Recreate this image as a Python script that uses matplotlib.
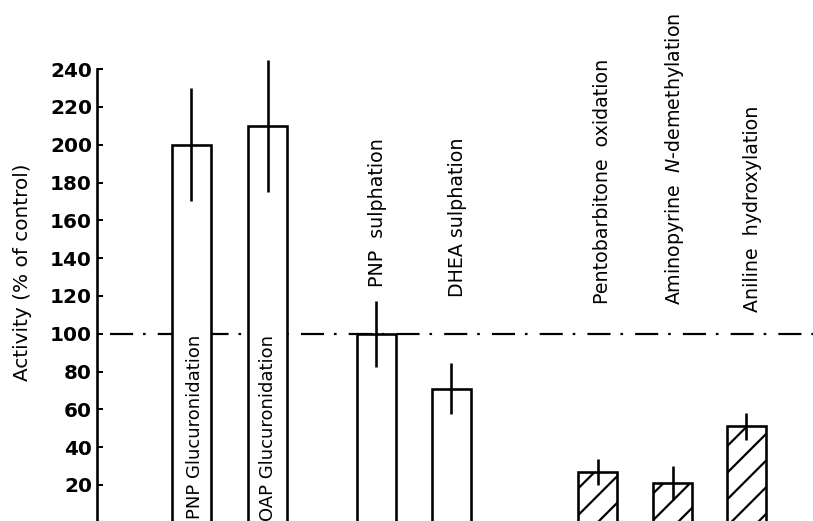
import matplotlib
matplotlib.use("Agg")
import matplotlib.pyplot as plt
import numpy as np

# ---- data ----
categories = ["PNP Glucuronidation", "OAP Glucuronidation", "PNP  sulphation",
              "DHEA sulphation", "Pentobarbitone  oxidation",
              r"Aminopyrine  $\it{N}$-demethylation", "Aniline  hydroxylation"]
values = [200, 210, 100, 71, 27, 21, 51]
errors = [30, 35, 17.5, 13.5, 7, 9, 7]
hatched = [False, False, False, False, True, True, True]
yticks = [20, 40, 60, 80, 100, 120, 140, 160, 180, 200, 220, 240]
ylabel = "Activity (% of control)"
control_level = 100

# ---- layout ----
DPI = 160
W, H = 813, 521
PT = 72.0 / DPI  # points per pixel
xpos = np.array([0.0, 1.02, 2.47, 3.47, 5.42, 6.42, 7.40])
bar_w = 0.52
inside = [True, True, False, False, False, False, False]
label_x_off = [0.05, 0.0, 0.01, 0.08, 0.06, 0.03, 0.09]
label_y = [99.5, 99.5, 124.5, 119.5, 115.5, 115, 111.5]

plt.rcParams['hatch.linewidth'] = 2.2 * PT
plt.rcParams['font.family'] = ['DejaVu Sans']

fig = plt.figure(figsize=(W / DPI, H / DPI), dpi=DPI)
ax = fig.add_axes([97 / W, 0, (W - 97) / W, 1])
ax.set_xlim(-1.253, 8.29)
ax.set_ylim(0.95, 276.6)

lw = 2.6 * PT
for x, v, e, h in zip(xpos, values, errors, hatched):
    ax.bar(x, v, width=bar_w, facecolor='white', edgecolor='black',
           linewidth=lw, hatch='//' if h else None, zorder=2)
ax.errorbar(xpos, values, yerr=errors, fmt='none', ecolor='black',
            elinewidth=lw, capsize=0, zorder=3)

# control line
ax.plot([-1.08, 8.29], [control_level, control_level], color='black',
        linewidth=2.2 * PT, linestyle=(0, (10.5, 4.5, 1.2, 5.5)), zorder=1)

for i, (x, c) in enumerate(zip(xpos, categories)):
    ax.text(x + label_x_off[i], label_y[i], c, rotation=90,
            ha='center', va='top' if inside[i] else 'bottom',
            fontsize=(18 if inside[i] else 19) * PT, zorder=4)

for s in ['top', 'right', 'bottom']:
    ax.spines[s].set_visible(False)
ax.spines['left'].set_linewidth(lw)
ax.spines['left'].set_bounds(0.95, 240)
ax.set_xticks([])
ax.set_yticks(yticks)
ax.set_yticklabels([str(t) for t in yticks], fontsize=20 * PT, fontweight='bold')
ax.tick_params(axis='y', direction='in', length=6 * PT, width=2 * PT, pad=5 * PT)
ax.set_ylabel(ylabel, fontsize=20 * PT)
ax.yaxis.set_label_coords(-(97 - 32) / (W - 97), (521 - 272) / 521)

fig.savefig("out.png", dpi=DPI)
